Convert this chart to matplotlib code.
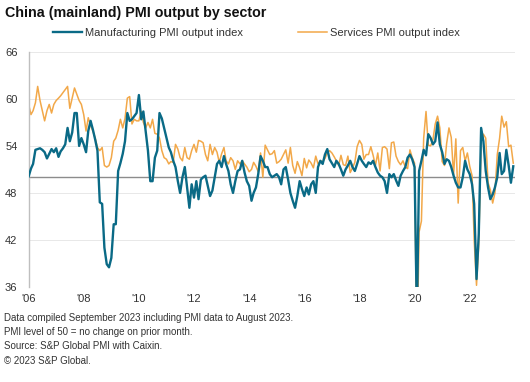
import matplotlib
matplotlib.use("Agg")
import matplotlib.pyplot as plt
import pandas as pd

plt.rcParams["font.family"] = ["Liberation Sans", "DejaVu Sans"]

# monthly values, Jan 2006 .. Aug 2023
manufacturing = [
    50.1, 51.1, 51.7, 53.5, 53.6, 53.7, 53.5, 53.2, 52.4, 53.0, 53.6, 53.2,  # 2006
    53.7, 52.6, 53.3, 53.7, 54.2, 56.3, 54.6, 55.7, 58.2, 58.2, 54.0, 55.0,  # 2007
    54.2, 53.2, 55.9, 57.2, 56.1, 54.8, 53.4, 46.8, 46.6, 41.0, 38.9, 38.5,  # 2008
    39.7, 44.0, 44.0, 50.8, 51.8, 53.0, 54.6, 58.2, 57.2, 57.4, 57.8, 58.2,  # 2009
    60.5, 57.4, 58.4, 55.9, 53.4, 49.5, 49.5, 52.5, 53.4, 58.2, 57.5, 56.3,  # 2010
    55.0, 53.8, 53.2, 52.1, 51.3, 49.5, 48.0, 50.0, 51.3, 48.7, 46.1, 49.1,  # 2011
    47.4, 49.5, 47.2, 49.7, 50.0, 50.2, 48.9, 47.6, 48.3, 50.0, 51.7, 52.1,  # 2012
    51.3, 52.7, 51.7, 50.8, 49.1, 48.0, 49.5, 50.8, 51.0, 52.1, 50.6, 49.5,  # 2013
    48.9, 47.0, 48.0, 48.7, 50.4, 52.7, 52.1, 51.3, 51.3, 50.4, 50.0, 50.2,  # 2014
    50.4, 50.0, 49.1, 51.0, 51.3, 49.7, 48.0, 47.0, 46.1, 47.6, 49.5, 48.5,  # 2015
    47.6, 48.7, 47.8, 49.1, 49.5, 48.0, 51.3, 52.1, 51.7, 52.9, 53.6, 52.3,  # 2016
    51.8, 51.3, 52.1, 51.7, 51.0, 50.2, 51.0, 51.5, 52.1, 51.3, 50.8, 51.7,  # 2017
    52.7, 52.1, 51.7, 51.3, 51.9, 51.7, 52.1, 51.3, 50.6, 50.2, 50.0, 49.5,  # 2018
    48.0, 50.4, 50.0, 50.4, 49.6, 48.9, 50.2, 50.8, 51.3, 52.5, 52.9, 52.3,  # 2019
    51.3, 32.0, 50.8, 52.1, 53.5, 52.8, 55.5, 55.0, 54.2, 54.6, 57.0, 54.2,  # 2020
    53.2, 51.7, 52.3, 52.1, 51.3, 50.2, 49.3, 48.7, 48.7, 50.0, 52.1, 51.0,  # 2021
    50.4, 49.1, 46.6, 37.0, 42.8, 56.3, 54.6, 50.8, 48.7, 47.2, 47.8, 48.7,  # 2022
    50.0, 53.1, 50.4, 50.8, 53.5, 51.5, 49.3, 51.4,                          # 2023
]
services = [
    59.3, 58.0, 58.5, 59.5, 61.6, 59.8, 58.5, 57.2, 58.5, 59.3, 58.2, 59.3,  # 2006
    59.8, 60.1, 60.4, 60.8, 61.2, 61.6, 58.8, 60.1, 61.4, 60.6, 59.8, 59.3,  # 2007
    58.0, 55.9, 57.6, 56.6, 55.9, 55.0, 53.8, 53.4, 53.8, 51.5, 51.3, 51.5,  # 2008
    52.5, 54.6, 55.0, 56.0, 57.4, 56.3, 57.5, 60.1, 60.3, 56.8, 57.4, 57.2,  # 2009
    57.2, 58.4, 57.0, 56.3, 57.0, 56.3, 57.4, 55.6, 55.5, 55.0, 53.4, 52.5,  # 2010
    52.3, 51.7, 52.0, 51.9, 54.2, 53.6, 52.5, 52.1, 53.8, 52.5, 52.3, 53.4,  # 2011
    54.2, 53.2, 54.7, 54.6, 54.4, 52.9, 52.1, 54.2, 52.9, 53.8, 53.2, 51.9,  # 2012
    53.0, 53.8, 52.1, 51.7, 52.5, 52.1, 51.0, 52.1, 51.7, 52.1, 51.7, 51.3,  # 2013
    50.7, 51.0, 51.9, 51.4, 50.7, 53.1, 50.0, 54.1, 53.5, 52.9, 53.0, 53.4,  # 2014
    51.8, 52.0, 52.3, 52.9, 53.5, 51.8, 53.8, 51.5, 50.5, 52.0, 51.2, 50.2,  # 2015
    52.4, 51.2, 52.2, 51.8, 51.2, 52.7, 51.7, 52.1, 52.0, 52.4, 53.1, 53.4,  # 2016
    53.1, 52.6, 52.1, 51.5, 52.8, 51.6, 51.5, 52.7, 50.6, 51.2, 51.9, 53.9,  # 2017
    54.7, 54.2, 52.3, 52.9, 52.9, 53.9, 52.8, 51.5, 53.1, 50.8, 53.8, 53.9,  # 2018
    53.6, 51.1, 54.4, 54.5, 52.7, 52.0, 51.6, 52.1, 51.3, 51.1, 53.5, 52.5,  # 2019
    51.8, 26.5, 43.0, 44.4, 55.0, 58.4, 54.1, 54.0, 54.8, 56.8, 57.8, 56.3,  # 2020
    52.0, 51.5, 54.3, 56.3, 55.1, 50.3, 54.9, 46.7, 53.4, 53.8, 52.1, 53.1,  # 2021
    51.4, 50.2, 42.0, 36.2, 41.4, 54.5, 55.5, 55.0, 49.3, 48.4, 46.7, 48.0,  # 2022
    52.9, 55.0, 57.8, 56.4, 57.1, 53.9, 54.1, 51.8,                          # 2023
]
dates = pd.date_range("2006-01-01", periods=len(manufacturing), freq="MS")

y_ticks = [36, 42, 48, 54, 60, 66]
x_years = list(range(2006, 2023, 2))
x_labels = ["'%02d" % (y % 100) for y in x_years]

teal = "#0A6A86"
orange = "#F2A849"
txt = "#333333"

fig = plt.figure(figsize=(5.3, 3.82), dpi=100)
ax = fig.add_axes([0.054, 0.249, 0.918, 0.615])

for y in y_ticks:
    ax.axhline(y, color="#e8e8e8", lw=0.7, zorder=0)
ax.axhline(50, color="#8c8c8c", lw=1.0, zorder=1)

ax.plot(dates, manufacturing, color=teal, lw=1.7, zorder=3,
        label="Manufacturing PMI output index")
ax.plot(dates, services, color=orange, lw=1.1, zorder=2,
        label="Services PMI output index")

ax.set_ylim(36, 66)
ax.set_xlim(dates[0], dates[-1] + pd.DateOffset(days=25))
ax.set_yticks(y_ticks)
ax.set_xticks([pd.Timestamp(f"{y}-01-01") for y in x_years])
ax.set_xticklabels(x_labels)
ax.tick_params(length=0, labelsize=8, colors=txt, pad=5)
ax.tick_params(axis="y", pad=8)
for s in ["top", "right", "bottom"]:
    ax.spines[s].set_visible(False)
ax.spines["left"].set_color("#bfbfbf")
ax.spines["left"].set_linewidth(1.0)

fig.text(0.01, 0.966, "China (mainland) PMI output by sector", fontsize=10.3,
         fontweight="bold", color="#111111", va="center", ha="left")
fig.legend(loc="center", bbox_to_anchor=(0.484, 0.913), ncol=2, frameon=False,
           fontsize=8, handlelength=2.6, columnspacing=5.0, handletextpad=0.25,
           labelcolor=txt)

notes = [
    "Data compiled September 2023 including PMI data to August 2023.",
    "PMI level of 50 = no change on prior month.",
    "Source: S&P Global PMI with Caixin.",
    "\u00a9 2023 S&P Global.",
]
for i, n in enumerate(notes):
    fig.text(0.008, 0.168 - i * 0.0375, n, fontsize=7, color=txt, va="center")

fig.savefig("out.png", dpi=100)
